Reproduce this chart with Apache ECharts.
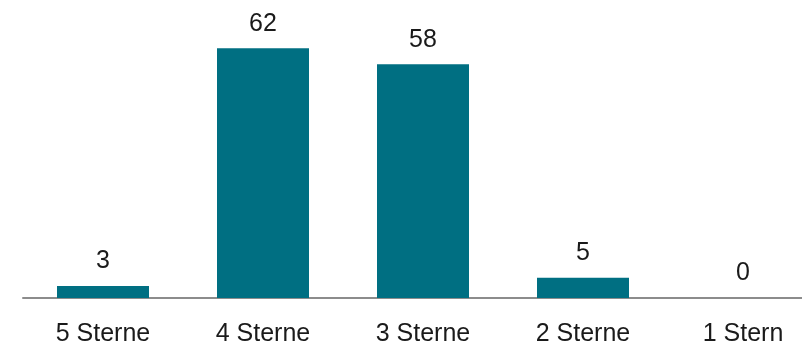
<!DOCTYPE html>
<html><head><meta charset="utf-8">
<script src="https://cdn.jsdelivr.net/npm/echarts@6/dist/echarts.min.js"></script>
<style>html,body{margin:0;padding:0;background:#fff}#c{width:802px;height:345px}</style>
</head><body><div id="c"></div>
<script>
const categories = ["5 Sterne", "4 Sterne", "3 Sterne", "2 Sterne", "1 Stern"];
const values = [3, 62, 58, 5, 0];
const chart = echarts.init(document.getElementById('c'), null, {renderer: 'canvas'});
chart.setOption({
  animation: false,
  grid: {left: 23, width: 800, top: 16, bottom: 47, containLabel: false, outerBoundsMode: 'none'},
  xAxis: {
    type: 'category', data: categories,
    axisLine: {lineStyle: {color: '#8c8c8c', width: 2}},
    axisTick: {show: false},
    axisLabel: {color: '#1a1a1a', fontSize: 25, fontFamily: 'Liberation Sans', margin: 24}
  },
  yAxis: {type: 'value', min: 0, max: 70, show: false, splitLine: {show: false}},
  series: [{
    type: 'bar', data: values, barWidth: 92,
    itemStyle: {color: '#006f82'},
    label: {show: true, position: 'top', distance: 12, color: '#1a1a1a', fontSize: 25, fontFamily: 'Liberation Sans'}
  }]
});
</script></body></html>
